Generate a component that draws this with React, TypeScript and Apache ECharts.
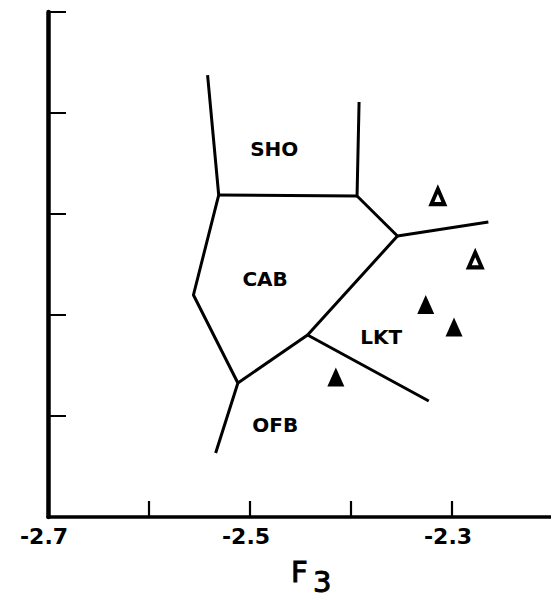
import React, { useEffect, useRef } from "react";
import * as echarts from "echarts";

// Axis settings
const X_MIN = -2.7;
const X_MAX = -2.2;
const X_STEP = 0.1;
const xTickLabels = ["-2.7", "-2.5", "-2.3"];
const Y_MIN = 0;
const Y_MAX = 5;

// Boundary polylines (F3, F-score) between the discriminant fields
const boundaryWest: [number, number][] = [
  [-2.542, 4.376],
  [-2.531, 3.188],
  [-2.556, 2.198],
  [-2.512, 1.327],
  [-2.534, 0.634],
];
const boundaryEast: [number, number][] = [
  [-2.392, 4.109],
  [-2.394, 3.178],
  [-2.354, 2.782],
  [-2.264, 2.921],
];
const boundaryShoCab: [number, number][] = [
  [-2.531, 3.188],
  [-2.394, 3.178],
];
const boundaryLkt: [number, number][] = [
  [-2.354, 2.782],
  [-2.443, 1.802],
  [-2.323, 1.149],
];
const boundaryCabOfb: [number, number][] = [
  [-2.443, 1.802],
  [-2.512, 1.327],
];

// Samples
const openTriangles: [number, number][] = [
  [-2.314, 3.173],
  [-2.277, 2.545],
];
const filledTriangles: [number, number][] = [
  [-2.326, 2.104],
  [-2.298, 1.881],
  [-2.415, 1.386],
];

// Field labels
const regionNames = ["SHO", "CAB", "LKT", "OFB"];
const regionPos: [number, number][] = [
  [-2.476, 3.644],
  [-2.485, 2.356],
  [-2.37, 1.782],
  [-2.475, 0.911],
];

const boundaries = [boundaryWest, boundaryEast, boundaryShoCab, boundaryLkt, boundaryCabOfb];

export default function App() {
  const ref = useRef<HTMLDivElement>(null);
  useEffect(() => {
    if (!ref.current) return;
    const chart = echarts.init(ref.current, undefined, { renderer: "svg" });
    const black = "#000";
    const lineSeries = boundaries.map((b, i) => ({
      type: "line",
      name: "boundary" + i,
      data: b,
      symbol: "none",
      silent: true,
      lineStyle: { color: black, width: 3 },
      z: 2,
    }));
    chart.setOption({
      animation: false,
      backgroundColor: "#fff",
      grid: {
        left: 48,
        width: 505,
        top: 12,
        bottom: 84,
        containLabel: false,
        outerBoundsMode: "none",
      },
      xAxis: {
        type: "value",
        min: X_MIN,
        max: X_MAX,
        interval: X_STEP,
        axisLine: { show: true, onZero: false, lineStyle: { color: black, width: 3.5 } },
        axisTick: { show: true, inside: true, length: 16, lineStyle: { color: black, width: 2.2 } },
        splitLine: { show: false },
        axisLabel: {
          show: true,
          margin: 8,
          color: black,
          fontFamily: "DejaVu Sans",
          fontWeight: "bold",
          fontSize: 22,
          padding: [0, 8, 0, 0],
          formatter: (v: number) => {
            const s = v.toFixed(1);
            return xTickLabels.includes(s) ? s : "";
          },
        },
      },
      yAxis: {
        type: "value",
        min: Y_MIN,
        max: Y_MAX,
        interval: 1,
        axisLine: { show: true, onZero: false, lineStyle: { color: black, width: 4.5 } },
        axisTick: { show: true, inside: true, length: 18, lineStyle: { color: black, width: 2 } },
        axisLabel: { show: false },
        splitLine: { show: false },
      },
      graphic: [
        {
          type: "text",
          x: 291,
          y: 572,
          style: {
            text: "F",
            font: "29px 'DejaVu Sans'",
            fill: black,
            stroke: black,
            lineWidth: 1,
            lineHeight: 24,
            textAlign: "left",
            textVerticalAlign: "middle",
          },
        },
        {
          type: "text",
          x: 313,
          y: 582,
          style: {
            text: "3",
            font: "29px 'DejaVu Sans'",
            fill: black,
            stroke: black,
            lineWidth: 1,
            lineHeight: 22,
            textAlign: "left",
            textVerticalAlign: "middle",
          },
        },
      ],
      series: [
        ...lineSeries,
        {
          type: "scatter",
          name: "open",
          data: openTriangles,
          symbol: "triangle",
          symbolSize: [13, 15],
          itemStyle: { color: "#fff", borderColor: black, borderWidth: 4, opacity: 1 },
          z: 3,
        },
        {
          type: "scatter",
          name: "filled",
          data: filledTriangles,
          symbol: "triangle",
          symbolSize: [17, 19],
          itemStyle: { color: black, opacity: 1 },
          z: 3,
        },
        {
          type: "scatter",
          name: "regions",
          data: regionNames.map((n, i) => ({ name: n, value: regionPos[i] })),
          symbolSize: 0,
          silent: true,
          itemStyle: { opacity: 1 },
          label: {
            show: true,
            position: "inside",
            formatter: (p: any) => p.name,
            color: black,
            opacity: 1,
            fontFamily: "DejaVu Sans",
            fontWeight: "bold",
            fontSize: 20,
          },
          z: 4,
        },
      ],
    });
    return () => chart.dispose();
  }, []);
  return (
    <div
      ref={ref}
      style={{ position: "absolute", left: 0, top: 0, width: 551, height: 601 }}
    />
  );
}
